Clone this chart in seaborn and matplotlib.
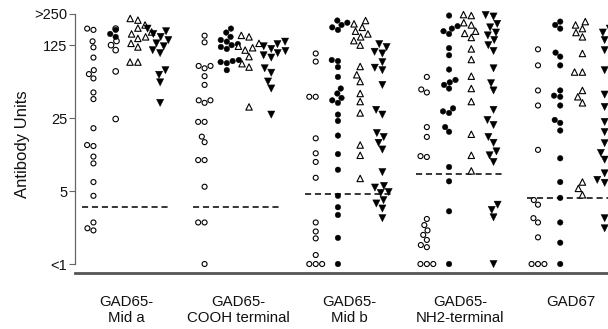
import matplotlib
matplotlib.use("Agg")
import pandas as pd
import matplotlib.pyplot as plt
import seaborn as sns
from matplotlib.ticker import NullLocator

# --- Chart data ---
ANTIGENS = ["GAD65-\nMid a", "GAD65-\nCOOH terminal", "GAD65-\nMid b",
            "GAD65-\nNH2-terminal", "GAD67"]
GROUPS = ["G1", "G2", "G3", "G4"]
CUTOFFS = [3.5, 3.5, 4.7, 7.3, 4.3]
Y_TICKS = [1, 5, 25, 125, 250]
Y_TICK_LABELS = ["<1", "5", "25", "125", ">250"]

MID_A_G1 = [180, 175, 136, 119, 95, 72, 66, 60, 44, 38, 20, 13.8, 13.5, 10.7, 9.2, 6.1, 4.5, 2.5, 2.2, 2.1]
MID_A_G2 = [175, 160, 150]
MID_A_G2_OPEN = [180, 137, 125, 112, 70, 24.5]
MID_A_G3 = [225, 217, 195, 182, 167, 160, 150, 145, 130, 120, 86, 86]
MID_A_G4 = [180, 170, 160, 150, 140, 130, 122, 112, 105, 72, 65, 55, 35]

COOH_G1 = [154, 133, 79, 79, 75, 63, 52, 37, 37, 35, 23, 23, 16.6, 14.7, 9.9, 9.9, 5.5, 2.5, 2.5, 1.0]
COOH_G2 = [180, 165, 150, 140, 135, 128, 125, 120, 115, 90, 88, 86, 84, 72]
COOH_G3 = [155, 150, 130, 122, 118, 112, 97, 83, 77, 32]
COOH_G4 = [135, 128, 122, 115, 110, 105, 100, 95, 75, 68, 56, 48, 27]

MID_B_G1 = [104, 87, 40, 40, 16, 11.5, 9.5, 6.7, 2.5, 2.05, 1.76, 1.22, 1.0, 1.0, 1.0]
MID_B_G2 = [215, 205, 195, 185, 175, 90, 88, 77, 62, 48, 43, 39, 37, 35, 27, 23.5, 17, 11.3, 8, 4.5, 3.5, 2.95, 1.78, 1.0]
MID_B_G3 = [215, 200, 185, 170, 160, 150, 138, 125, 78, 65, 56, 43, 36, 28, 13.8, 11, 6.6]
MID_B_G4 = [128, 120, 108, 104, 86, 76, 72, 52, 30, 27, 18, 16.5, 14.5, 12.5, 7.6, 5.6, 5.4, 4.9, 4.8, 4.1, 3.8, 3.4, 2.75]

NH2_G1 = [62, 47, 44, 20.5, 16.5, 10.8, 10.6, 2.7, 2.36, 2.1, 1.9, 1.7, 1.52, 1.45, 1.0, 1.0, 1.0]
NH2_G2 = [240, 190, 180, 170, 160, 117, 100, 73, 58, 55, 52, 48, 31, 29, 28, 20.5, 18.5, 8.5, 6.2, 3.2, 1.0]
NH2_G3 = [245, 240, 205, 195, 170, 162, 148, 115, 91, 63, 48, 36, 17.5, 11, 7.8]
NH2_G4 = [243, 235, 200, 185, 165, 155, 140, 125, 110, 75, 54, 46, 30, 24, 21.5, 16.5, 14.5, 12, 11, 9.5, 3.7, 3.3, 2.8, 1.0]

GAD67_G1 = [114, 80, 46, 33, 12.4, 4.1, 3.7, 2.75, 2.5, 1.8, 1.0, 1.0, 1.0]
GAD67_G2 = [210, 195, 180, 106, 97, 80, 46, 41, 40, 33, 24, 22.5, 19, 10.3, 6.1, 4.3, 2.5, 1.6, 1.0]
GAD67_G3 = [210, 195, 180, 165, 150, 104, 69, 69, 46, 40, 35, 6.1, 5.3, 4.6]
GAD67_G4 = [180, 165, 140, 112, 72, 42, 32, 23, 18.4, 14.4, 11.6, 10, 7.4, 6.4, 6.0, 2.75, 2.2]

# marker style per group: (marker, size in pt)
MARKERS = {"G1": ("o", 3.6), "G2": ("o", 4.0), "G3": ("^", 4.6), "G4": ("v", 5.2)}

# --- Build a long table ---
rows = []


def add(antigen, group, values, filled):
    for v in values:
        rows.append({"antigen": antigen, "group": group, "value": v, "filled": filled})


add(ANTIGENS[0], "G1", MID_A_G1, False)
add(ANTIGENS[0], "G2", MID_A_G2, True)
add(ANTIGENS[0], "G2", MID_A_G2_OPEN, False)
add(ANTIGENS[0], "G3", MID_A_G3, False)
add(ANTIGENS[0], "G4", MID_A_G4, True)
add(ANTIGENS[1], "G1", COOH_G1, False)
add(ANTIGENS[1], "G2", COOH_G2, True)
add(ANTIGENS[1], "G3", COOH_G3, False)
add(ANTIGENS[1], "G4", COOH_G4, True)
add(ANTIGENS[2], "G1", MID_B_G1, False)
add(ANTIGENS[2], "G2", MID_B_G2, True)
add(ANTIGENS[2], "G3", MID_B_G3, False)
add(ANTIGENS[2], "G4", MID_B_G4, True)
add(ANTIGENS[3], "G1", NH2_G1, False)
add(ANTIGENS[3], "G2", NH2_G2, True)
add(ANTIGENS[3], "G3", NH2_G3, False)
add(ANTIGENS[3], "G4", NH2_G4, True)
add(ANTIGENS[4], "G1", GAD67_G1, False)
add(ANTIGENS[4], "G2", GAD67_G2, True)
add(ANTIGENS[4], "G3", GAD67_G3, False)
add(ANTIGENS[4], "G4", GAD67_G4, True)
df = pd.DataFrame(rows)

# --- Plot ---
sns.set_theme(style="white")
plt.rcParams["font.family"] = ["Liberation Sans", "DejaVu Sans"]

fig = plt.figure(figsize=(6.08, 3.29), dpi=100)
ax = fig.add_axes([75 / 608, 56 / 329, 533 / 608, 268 / 329])
ax.set_yscale("log")

for g in GROUPS:
    marker, size = MARKERS[g]
    for filled in (False, True):
        sub = df[(df["group"] == g) & (df["filled"] == filled)]
        if sub.empty:
            continue
        color = "black" if filled else "white"
        sns.swarmplot(data=sub, x="antigen", y="value", hue="group",
                      order=ANTIGENS, hue_order=GROUPS, dodge=True,
                      palette={k: color for k in GROUPS}, marker=marker,
                      size=size, edgecolor="black",
                      linewidth=0.3 if filled else 0.8,
                      legend=False, ax=ax, warn_thresh=1, zorder=3)

# cutoff lines
for i, c in enumerate(CUTOFFS):
    ax.hlines(c, i - 0.4, i + 0.4, colors="black", linestyles=(0, (4, 2.5)),
              linewidth=1.1, zorder=1)

ax.set_ylim(0.82, 303)
ax.set_xlim(-0.466, 4.33)
ax.set_yticks(Y_TICKS)
ax.set_yticklabels(Y_TICK_LABELS)
ax.yaxis.set_minor_locator(NullLocator())

ax.set_xlabel("")
ax.set_ylabel("Antibody Units", fontsize=12, color="#111111")
ax.yaxis.set_label_coords(-0.084, 0.481)

ax.tick_params(axis="y", left=True, length=4, width=0.8, color="#666666",
               pad=1.5, labelsize=10.5, labelcolor="#111111")
ax.tick_params(axis="x", bottom=False, length=0, pad=16, labelsize=10.8,
               labelcolor="#111111")

sns.despine(ax=ax, top=True, right=True)
ax.spines["left"].set_bounds(1, 250)
ax.spines["left"].set_color("#666666")
ax.spines["left"].set_linewidth(0.9)
ax.spines["bottom"].set_color("#555555")
ax.spines["bottom"].set_linewidth(2.0)

fig.savefig("out.png", dpi=100)
